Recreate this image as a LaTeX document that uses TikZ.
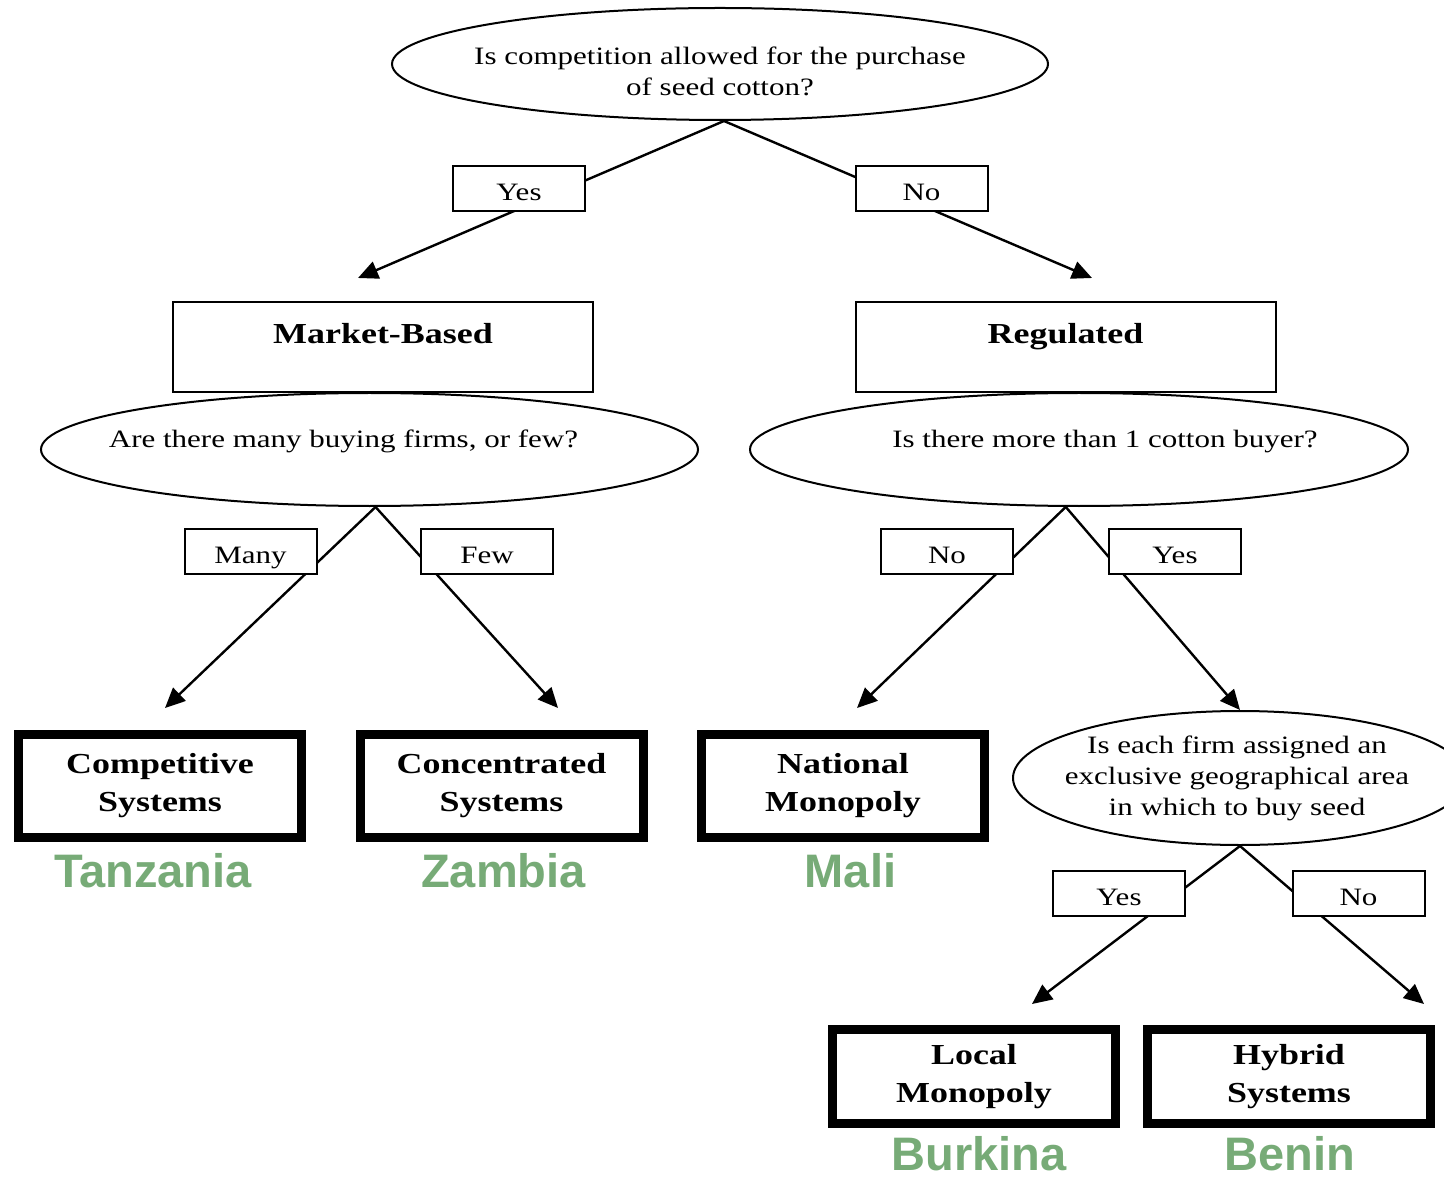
\documentclass[tikz,border=0pt]{standalone}
\usepackage{fontspec}
\setmainfont{Liberation Serif}[FakeStretch=1.24]
\newfontfamily\countryfont{Liberation Sans}
\usepackage{tikz}
\usetikzlibrary{shapes.geometric,arrows.meta}
\definecolor{countrygreen}{RGB}{119,171,119}
\tikzset{
  question/.style={ellipse, draw, line width=1pt, inner sep=0pt},
  qtext/.style={align=center, inner sep=0pt, font=\fontsize{12.5}{15.5}\selectfont},
  answer/.style={draw, fill=white, line width=1pt, minimum width=66pt, minimum height=22.5pt, inner sep=0pt, text height=12pt, text depth=0pt, font=\fontsize{12.5}{15.5}\selectfont},
  regime/.style={draw, line width=1pt, minimum width=210pt, minimum height=45pt, text depth=14pt, font=\fontsize{14.5}{19}\selectfont\bfseries},
  outcome/.style={draw, line width=4.5pt, minimum width=141.5pt, minimum height=51.5pt, align=center, font=\fontsize{14.5}{19}\selectfont\bfseries},
  country/.style={anchor=base, inner sep=0pt, text=countrygreen, font=\countryfont\fontsize{23.5}{27}\selectfont\bfseries},
  branch/.style={line width=1.2pt, -{Triangle[length=10pt,width=9pt]}}
}

\begin{document}
\begin{tikzpicture}[x=0.5pt,y=0.5pt,yscale=-1,xscale=1]
\useasboundingbox (0,0) rectangle (1444,1181);

% Questions
\node[question, minimum width=328pt, minimum height=56pt, label={[qtext,yshift=-3.5pt]center:{Is competition allowed for the purchase\\of seed cotton?}}] (q1) at (720,64) {};
\node[question, minimum width=328.5pt, minimum height=56.5pt, label={[qtext,xshift=-13pt,yshift=4pt]center:{Are there many buying firms, or few?}}] (q2) at (369.5,449.5) {};
\node[question, minimum width=329pt, minimum height=56.5pt, label={[qtext,xshift=13pt,yshift=4pt]center:{Is there more than 1 cotton buyer?}}] (q3) at (1079,449.5) {};
\node[question, minimum width=227pt, minimum height=67pt, label={[qtext,xshift=-1.5pt]center:{Is each firm assigned an\\exclusive geographical area\\in which to buy seed}}] (q4) at (1240,778) {};

% Regimes
\node[regime] (market) at (383,347) {Market-Based};
\node[regime] (regul) at (1065.5,347) {Regulated};

% Outcomes
\node[outcome] (comp) at (160,786) {Competitive\\Systems};
\node[outcome] (conc) at (501.5,786) {Concentrated\\Systems};
\node[outcome] (natl) at (843,786) {National\\Monopoly};
\node[outcome, minimum height=47pt] (local) at (974,1076.5) {Local\\Monopoly};
\node[outcome, minimum height=47pt] (hybrid) at (1289,1076.5) {Hybrid\\Systems};

% Arrow ends
\coordinate (t1) at (358,278);
\coordinate (t2) at (1092,278);
\coordinate (t3) at (165,708);
\coordinate (t4) at (558,708);
\coordinate (t5) at (857,708);
\coordinate (t7) at (1032,1004);
\coordinate (t8) at (1424,1004);

%Straight Lines
\draw[branch] (q1.274) -- (t1);
\draw[branch] (q1.274) -- (t2);
\draw[branch] (q2.276) -- (t3);
\draw[branch] (q2.276) -- (t4);
\draw[branch] (q3.257) -- (t5);
\draw[branch] (q3.257) -- (q4.north);
\draw[branch] (q4.south) -- (t7);
\draw[branch] (q4.south) -- (t8);

% Answers
\node[answer] (yes1) at (519,188.5) {Yes};
\node[answer] (no1) at (921.5,188.5) {No};
\node[answer] (many) at (250.5,551.5) {Many};
\node[answer] (few) at (487,551.5) {Few};
\node[answer] (no2) at (947,551.5) {No};
\node[answer] (yes2) at (1175,551.5) {Yes};
\node[answer] (yes3) at (1119,893.5) {Yes};
\node[answer] (no3) at (1358.5,893.5) {No};

% Countries
\node[country] (tz) at (153,887) {Tanzania};
\node[country] (zm) at (503.5,887) {Zambia};
\node[country] (ml) at (850.5,887) {Mali};
\node[country] (bf) at (979,1170) {Burkina};
\node[country] (bj) at (1289.5,1170) {Benin};

\end{tikzpicture}
\end{document}
